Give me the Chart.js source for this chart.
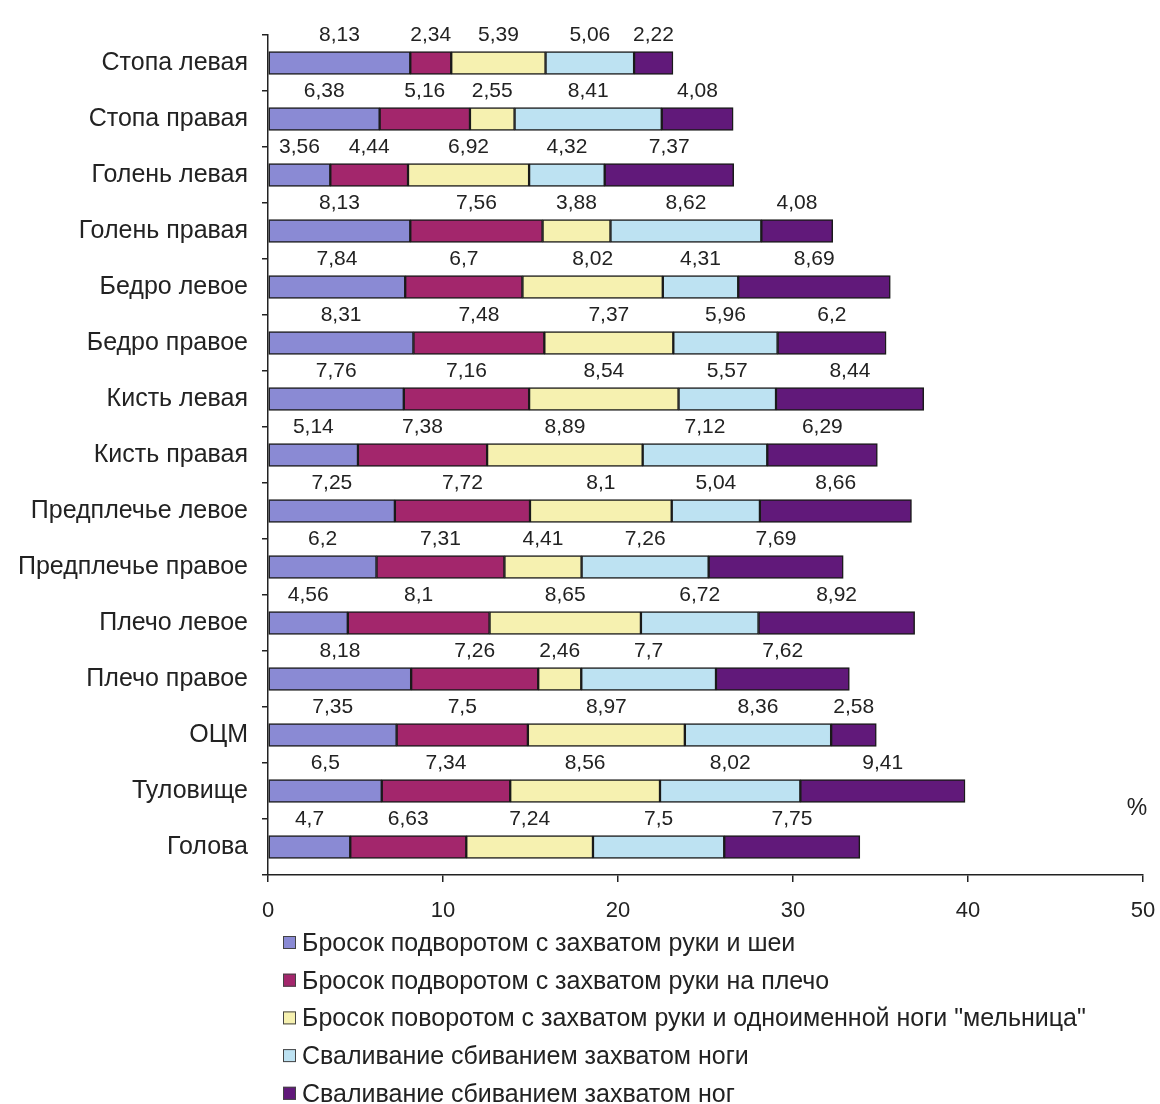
<!DOCTYPE html>
<html lang="ru">
<head>
<meta charset="utf-8">
<title>Распределение бросков по зонам тела</title>
<script src="https://cdn.jsdelivr.net/npm/chart.js@4/dist/chart.umd.min.js"></script>
<style>
  html, body { margin: 0; padding: 0; background: #ffffff; }
  #wrap { width: 1160px; height: 1104px; position: relative; }
</style>
</head>
<body>
<div id="wrap"><canvas id="chart" width="1160" height="1104"></canvas></div>
<script>
// Body zones (top to bottom)
const zones = [
  'Стопа левая', 'Стопа правая', 'Голень левая', 'Голень правая',
  'Бедро левое', 'Бедро правое', 'Кисть левая', 'Кисть правая',
  'Предплечье левое', 'Предплечье правое', 'Плечо левое', 'Плечо правое',
  'ОЦМ', 'Туловище', 'Голова'
];

// Technique names
const techniques = [
  'Бросок подворотом с захватом руки и шеи',
  'Бросок подворотом с захватом руки на плечо',
  'Бросок поворотом с захватом руки и одноименной ноги "мельница"',
  'Сваливание сбиванием захватом ноги',
  'Сваливание сбиванием захватом ног'
];

// Percent values per technique, in zone order
const neckArm   = [8.13, 6.38, 3.56, 8.13, 7.84, 8.31, 7.76, 5.14, 7.25, 6.2, 4.56, 8.18, 7.35, 6.5, 4.7];
const armShould = [2.34, 5.16, 4.44, 7.56, 6.7, 7.48, 7.16, 7.38, 7.72, 7.31, 8.1, 7.26, 7.5, 7.34, 6.63];
const mill      = [5.39, 2.55, 6.92, 3.88, 8.02, 7.37, 8.54, 8.89, 8.1, 4.41, 8.65, 2.46, 8.97, 8.56, 7.24];
const legPick   = [5.06, 8.41, 4.32, 8.62, 4.31, 5.96, 5.57, 7.12, 5.04, 7.26, 6.72, 7.7, 8.36, 8.02, 7.5];
const legsPick  = [2.22, 4.08, 7.37, 4.08, 8.69, 6.2, 8.44, 6.29, 8.66, 7.69, 8.92, 7.62, 2.58, 9.41, 7.75];

const xTicks = [0, 10, 20, 30, 40, 50];

const seriesValues = [neckArm, armShould, mill, legPick, legsPick];
const seriesColors = ['#8a8ad4', '#a3266c', '#f6f1b0', '#bde2f2', '#61197a'];

const FONT = 'Liberation Sans, Arial, sans-serif';
const TEXT = '#222222';

// Value labels placed above every segment
const segmentLabels = {
  id: 'segmentLabels',
  afterDatasetsDraw(chart) {
    const ctx = chart.ctx;
    ctx.save();
    ctx.font = '21px ' + FONT;
    ctx.fillStyle = TEXT;
    ctx.textAlign = 'center';
    ctx.textBaseline = 'middle';
    chart.data.datasets.forEach((ds, di) => {
      const meta = chart.getDatasetMeta(di);
      meta.data.forEach((bar, i) => {
        const cx = (bar.x + bar.base) / 2;
        const txt = String(ds.data[i]).replace('.', ',');
        ctx.fillText(txt, cx, bar.y - 28);
      });
    });
    ctx.restore();
  }
};

// Unit mark and the vertical legend under the axis
const extras = {
  id: 'extras',
  afterDraw(chart) {
    const ctx = chart.ctx;
    ctx.save();
    ctx.font = '23px ' + FONT;
    ctx.fillStyle = TEXT;
    ctx.textBaseline = 'middle';
    ctx.textAlign = 'center';
    ctx.fillText('%', 1137, 809);

    ctx.textAlign = 'left';
    ctx.font = '25px ' + FONT;
    chart.data.datasets.forEach((ds, i) => {
      const y = 943 + i * 37.7;
      ctx.fillStyle = ds.backgroundColor;
      ctx.fillRect(283, y - 7, 13, 13);
      ctx.strokeStyle = '#444';
      ctx.lineWidth = 1;
      ctx.strokeRect(283.5, y - 6.5, 12, 12);
      ctx.fillStyle = TEXT;
      ctx.fillText(ds.label, 302, y + 1);
    });
    ctx.restore();
  }
};

new Chart(document.getElementById('chart'), {
  type: 'bar',
  data: {
    labels: zones,
    datasets: techniques.map((name, i) => ({
      label: name,
      data: seriesValues[i],
      backgroundColor: seriesColors[i],
      borderColor: '#1a1a1a',
      borderWidth: 1.5,
      borderSkipped: false,
      barThickness: 23
    }))
  },
  options: {
    indexAxis: 'y',
    responsive: false,
    animation: false,
    layout: { padding: { top: 35, right: 17, bottom: 179, left: 0 } },
    plugins: {
      legend: { display: false },
      tooltip: { enabled: false }
    },
    scales: {
      x: {
        stacked: true,
        min: xTicks[0],
        max: xTicks[xTicks.length - 1],
        afterBuildTicks(scale) { scale.ticks = xTicks.map(v => ({ value: v })); },
        afterFit(scale) {
          scale.height = 50;
          scale.paddingLeft = 0;
          scale.paddingRight = 0;
        },
        grid: { drawOnChartArea: false, drawTicks: true, tickLength: 7, color: '#222', lineWidth: 1.5 },
        border: { display: true, color: '#222', width: 1.5 },
        ticks: { color: TEXT, font: { family: FONT, size: 22 }, padding: 16 }
      },
      y: {
        stacked: true,
        afterFit(scale) { scale.width = 268; },
        grid: { drawOnChartArea: false, drawTicks: true, tickLength: 6, offset: true, color: '#222', lineWidth: 1.5 },
        border: { display: true, color: '#222', width: 1.5 },
        ticks: { color: TEXT, font: { family: FONT, size: 25 }, padding: 14 }
      }
    }
  },
  plugins: [segmentLabels, extras]
});
</script>
</body>
</html>
